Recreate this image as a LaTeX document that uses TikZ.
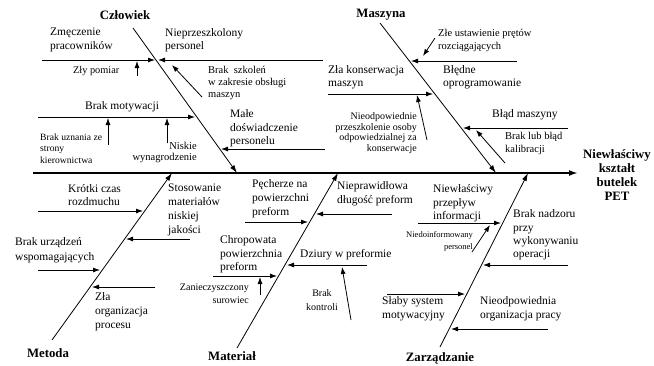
\documentclass[tikz,border=0pt]{standalone}
\usepackage{fontspec}
\setmainfont{Liberation Serif}
\usetikzlibrary{arrows.meta}
\begin{document}
\begin{tikzpicture}[x=1pt,y=-1pt,
  lbl/.style={inner sep=0pt, font=\fontsize{11.5}{13.5}\selectfont, align=left, anchor=west},
  lblr/.style={lbl, align=right, anchor=east},
  sml/.style={inner sep=0pt, font=\fontsize{10.3}{12.5}\selectfont, align=left, anchor=west},
  smlr/.style={sml, align=right, anchor=east},
  cat/.style={inner sep=0pt, font=\fontsize{12.8}{14}\selectfont\bfseries},
  arr/.style={line width=0.8pt, -{Latex[length=7pt,width=5pt]}},
  bone/.style={line width=0.8pt, -{Latex[length=8pt,width=5pt]}},
  spine/.style={line width=1.8pt, -{Latex[length=9pt,width=6pt]}}]
\useasboundingbox (0,0) rectangle (654,365);

% spine
\coordinate (S0) at (33,173);
\coordinate (S1) at (578,173);
\draw[spine] (S0) -- (S1);
\node[cat, align=center] (eff) at (617,175) {Niewłaściwy\\kształt\\butelek\\PET};

% bones
\coordinate (C0) at (133,28);  \coordinate (C1) at (237,173);
\coordinate (M0) at (380,23);  \coordinate (M1) at (496,173);
\coordinate (T0) at (52,340);  \coordinate (T1) at (172,173);
\coordinate (R0) at (237,348); \coordinate (R1) at (338,173);
\coordinate (Z0) at (440,347); \coordinate (Z1) at (528,173);
\draw[bone] (C0) -- (C1);
\draw[bone] (M0) -- (M1);
\draw[bone] (T0) -- (T1);
\draw[bone] (R0) -- (R1);
\draw[bone] (Z0) -- (Z1);

\node[cat] (cz) at (125,15) {Człowiek};
\node[cat] (ma) at (381,15) {Maszyna};
\node[cat] (me) at (48,353) {Metoda};
\node[cat] (mt) at (232,356) {Materiał};
\node[cat] (za) at (440,358) {Zarządzanie};

% ---- Czlowiek
\node[lbl] (c1) at (50,40) {Zmęczenie\\pracowników};
\coordinate (c1a) at (42,60); \coordinate (c1b) at (155,60);
\draw[arr] (c1a) -- (c1b);
\node[sml] (c2) at (73,71) {Zły pomiar};
\coordinate (c2a) at (137,76); \coordinate (c2b) at (137,61);
\draw[arr] (c2a) -- (c2b);
\node[lbl] (c3) at (165,40) {Nieprzeszkolony\\personel};
\coordinate (c3a) at (323,60); \coordinate (c3b) at (158,60);
\draw[arr] (c3a) -- (c3b);
\node[sml, font=\fontsize{10.5}{12}\selectfont] (c4) at (208,83) {Brak\ \ szkoleń\\w zakresie obsługi\\maszyn};
\coordinate (c4a) at (202,97); \coordinate (c4b) at (172,65);
\draw[arr] (c4a) -- (c4b);
\node[lbl] (c5) at (85,107) {Brak motywacji};
\coordinate (c5a) at (38,117); \coordinate (c5b) at (195,117);
\draw[arr] (c5a) -- (c5b);
\node[sml, font=\fontsize{9.6}{11.5}\selectfont] (c6) at (40,148.5) {Brak uznania ze\\strony\\kierownictwa};
\coordinate (c6a) at (108,145); \coordinate (c6b) at (108,118);
\draw[arr] (c6a) -- (c6b);
\node[smlr, font=\fontsize{10.5}{11.5}\selectfont] (c7) at (197,152.5) {Niskie\\wynagrodzenie};
\coordinate (c7a) at (167,143); \coordinate (c7b) at (167,118);
\draw[arr] (c7a) -- (c7b);
\node[lbl] (c8) at (230,128.5) {Małe\\doświadczenie\\personelu};
\coordinate (c8a) at (325,149); \coordinate (c8b) at (221,149);
\draw[arr] (c8a) -- (c8b);

% ---- Maszyna
\node[sml, font=\fontsize{10.5}{13}\selectfont] (m1) at (438,40) {Złe ustawienie prętów\\rozciągających};
\coordinate (m1a) at (435,38); \coordinate (m1b) at (423,56);
\draw[arr] (m1a) -- (m1b);
\coordinate (m2a) at (517,61); \coordinate (m2b) at (411,61);
\draw[arr] (m2a) -- (m2b);
\node[lbl, font=\fontsize{11.5}{12.5}\selectfont] (m3) at (328,77) {Zła konserwacja\\maszyn};
\coordinate (m3a) at (328,94); \coordinate (m3b) at (433,94);
\draw[arr] (m3a) -- (m3b);
\node[lbl, font=\fontsize{11.5}{12.5}\selectfont] (m4) at (443,77) {Błędne\\oprogramowanie};
\node[smlr, font=\fontsize{10}{10.7}\selectfont] (m5) at (417,133) {Nieodpowiednie\\przeszkolenie osoby\\odpowiedzialnej za\\konserwacje};
\coordinate (m5a) at (427,140); \coordinate (m5b) at (417,95);
\draw[arr] (m5a) -- (m5b);
\node[lbl] (m6) at (492,115) {Błąd maszyny};
\coordinate (m6a) at (568,128); \coordinate (m6b) at (463,128);
\draw[arr] (m6a) -- (m6b);
\node[sml, font=\fontsize{10.5}{13}\selectfont] (m7) at (505,143.5) {Brak lub błąd\\kalibracji};
\coordinate (m7a) at (505,163); \coordinate (m7b) at (476,130);
\draw[arr] (m7a) -- (m7b);

% ---- Metoda
\node[lbl] (t1) at (68,195) {Krótki czas\\rozdmuchu};
\coordinate (t1a) at (38,211); \coordinate (t1b) at (143,211);
\draw[arr] (t1a) -- (t1b);
\node[lbl, font=\fontsize{11.5}{14}\selectfont] (t2) at (168,209.5) {Stosowanie\\materiałów\\niskiej\\jakości};
\coordinate (t2a) at (190,239); \coordinate (t2b) at (126,239);
\draw[arr] (t2a) -- (t2b);
\node[lbl, font=\fontsize{11.5}{15}\selectfont] (t3) at (15,250.5) {Brak urządzeń\\wspomagających};
\coordinate (t3a) at (38,270); \coordinate (t3b) at (100,270);
\draw[arr] (t3a) -- (t3b);
\node[lbl, font=\fontsize{11.5}{14}\selectfont] (t4) at (95,312) {Zła\\organizacja\\procesu};
\coordinate (t4a) at (155,287); \coordinate (t4b) at (92,287);
\draw[arr] (t4a) -- (t4b);

% ---- Material
\node[lbl, font=\fontsize{11.5}{14}\selectfont] (r1) at (252,199) {Pęcherze na\\powierzchni\\preform};
\coordinate (r1a) at (245,222); \coordinate (r1b) at (308,222);
\draw[arr] (r1a) -- (r1b);
\node[lbl] (r2) at (337,193.5) {Nieprawidłowa\\długość preform};
\coordinate (r2a) at (392,214); \coordinate (r2b) at (316,214);
\draw[arr] (r2a) -- (r2b);
\node[lbl] (r3) at (220,254.5) {Chropowata\\powierzchnia\\preform};
\coordinate (r3a) at (213,276); \coordinate (r3b) at (277,276);
\draw[arr] (r3a) -- (r3b);
\node[smlr, font=\fontsize{10}{13}\selectfont] (r4) at (249,293.5) {Zanieczyszczony\\surowiec};
\coordinate (r4a) at (260,295); \coordinate (r4b) at (260,277);
\draw[arr] (r4a) -- (r4b);
\node[lbl] (r5) at (300,255) {Dziury w preformie};
\coordinate (r5a) at (367,265); \coordinate (r5b) at (287,265);
\draw[arr] (r5a) -- (r5b);
\node[sml, align=center, anchor=center, font=\fontsize{10}{14}\selectfont] (r6) at (322,300) {Brak\\kontroli};
\coordinate (r6a) at (351,320); \coordinate (r6b) at (342,267);
\draw[arr] (r6a) -- (r6b);

% ---- Zarzadzanie
\node[lbl] (z1) at (433,203.3) {Niewłaściwy\\przepływ\\informacji};
\coordinate (z1a) at (418,223); \coordinate (z1b) at (501,223);
\draw[arr] (z1a) -- (z1b);
\node[smlr, font=\fontsize{8.5}{12}\selectfont] (z2) at (473,241) {Niedoinformowany\\personel};
\coordinate (z2a) at (472,252); \coordinate (z2b) at (490,225);
\draw[arr] (z2a) -- (z2b);
\node[lbl, font=\fontsize{11.5}{13.3}\selectfont] (z3) at (513,235) {Brak nadzoru\\przy\\wykonywaniu\\operacji};
\coordinate (z3a) at (568,265); \coordinate (z3b) at (483,265);
\draw[arr] (z3a) -- (z3b);
\node[lbl] (z4) at (382,308.5) {Słaby system\\motywacyjny};
\coordinate (z4a) at (387,294); \coordinate (z4b) at (465,294);
\draw[arr] (z4a) -- (z4b);
\node[lbl] (z5) at (480,308.5) {Nieodpowiednia\\organizacja pracy};
\coordinate (z5a) at (548,329); \coordinate (z5b) at (451,329);
\draw[arr] (z5a) -- (z5b);
\end{tikzpicture}
\end{document}
